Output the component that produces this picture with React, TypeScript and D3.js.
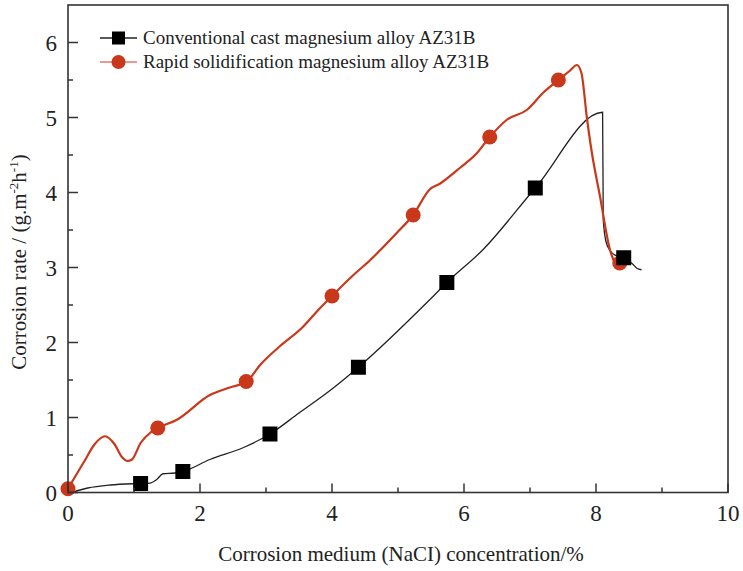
import * as d3 from 'd3';

const WIDTH = 743;
const HEIGHT = 571;
const MARGIN = { top: 5, right: 15, bottom: 78.5, left: 68 };

const X_TICKS = [0, 2, 4, 6, 8, 10];
const X_MINOR = [1, 3, 5, 7, 9];
const Y_TICKS = [0, 1, 2, 3, 4, 5, 6];
const Y_MINOR = [0.5, 1.5, 2.5, 3.5, 4.5, 5.5];

const SERIES_NAMES = [
  'Conventional cast magnesium alloy AZ31B',
  'Rapid solidification magnesium alloy AZ31B',
];

// conventional cast: concentration, rate
const castLine = [
  [0.05, 0.0], [0.3, 0.06], [0.64, 0.1], [1.09, 0.12], [1.24, 0.125], [1.34, 0.17],
  [1.44, 0.25], [1.62, 0.26], [1.74, 0.28], [2.15, 0.44], [2.66, 0.6], [3.06, 0.78],
  [3.5, 1.06], [4.0, 1.38], [4.4, 1.67], [5.48, 2.57], [5.74, 2.8], [6.29, 3.24],
  [7.08, 4.06], [8.1, 5.07], [8.11, 3.64], [8.15, 3.35], [8.21, 3.23], [8.3, 3.16],
  [8.42, 3.13], [8.55, 3.05], [8.62, 2.99], [8.69, 2.97],
];
const castMarks = [
  [1.1, 0.12], [1.74, 0.28], [3.06, 0.78], [4.4, 1.67], [5.74, 2.8], [7.08, 4.06], [8.42, 3.13],
];

// rapid solidification
const rapidLine = [
  [0.0, 0.05], [0.1, 0.2], [0.25, 0.42], [0.4, 0.64], [0.56, 0.75], [0.7, 0.65],
  [0.82, 0.47], [0.9, 0.42], [0.97, 0.44], [1.1, 0.66], [1.25, 0.8], [1.36, 0.86],
  [1.65, 0.97], [2.15, 1.3], [2.45, 1.4], [2.71, 1.48], [2.91, 1.7], [3.21, 1.95],
  [3.55, 2.2], [3.82, 2.46], [4.0, 2.62], [4.3, 2.88], [4.58, 3.1], [4.98, 3.46],
  [5.23, 3.7], [5.48, 4.04], [5.64, 4.12], [5.94, 4.33], [6.19, 4.52], [6.39, 4.74],
  [6.65, 4.97], [6.95, 5.1], [7.2, 5.33], [7.43, 5.5], [7.6, 5.62], [7.71, 5.7],
  [7.78, 5.59], [7.86, 5.01], [7.93, 4.57], [8.06, 3.95], [8.21, 3.24], [8.31, 3.01],
];
const rapidMarks = [
  [0.0, 0.05], [1.36, 0.86], [2.7, 1.48], [4.0, 2.62], [5.23, 3.7], [6.39, 4.74], [7.43, 5.5], [8.36, 3.06],
];

const RED = '#c9381a';

const App = () => {
  const boundsWidth = WIDTH - MARGIN.left - MARGIN.right;
  const boundsHeight = HEIGHT - MARGIN.top - MARGIN.bottom;

  const xScale = d3.scaleLinear().domain([0, 10]).range([0, boundsWidth]);
  const yScale = d3.scaleLinear().domain([0, 6.5]).range([boundsHeight, 0]);

  // smooth line through the read-off points
  const lineGenerator = d3
    .line()
    .x((d) => xScale(d[0]))
    .y((d) => yScale(d[1]))
    .curve(d3.curveMonotoneX);

  const font = '"Liberation Serif", "Times New Roman", serif';

  return (
    <svg
      width={WIDTH}
      height={HEIGHT}
      style={{ position: 'absolute', left: 0, top: 0, background: '#fff' }}
      fontFamily={font}
    >
      <g transform={`translate(${MARGIN.left},${MARGIN.top})`}>
        {/* data lines */}
        <path d={lineGenerator(castLine)} fill="none" stroke="#222" strokeWidth={1.3} />
        <path d={lineGenerator(rapidLine)} fill="none" stroke={RED} strokeWidth={2.2} />

        {/* markers: red first, black on top */}
        {rapidMarks.map((d, i) => (
          <circle key={'r' + i} cx={xScale(d[0])} cy={yScale(d[1])} r={7.5} fill={RED} />
        ))}
        {castMarks.map((d, i) => (
          <rect
            key={'c' + i}
            x={xScale(d[0]) - 7.5}
            y={yScale(d[1]) - 7.5}
            width={15}
            height={15}
            fill="#000"
          />
        ))}

        {/* frame */}
        <rect
          x={0}
          y={0}
          width={boundsWidth}
          height={boundsHeight}
          fill="none"
          stroke="#333"
          strokeWidth={1.6}
        />

        {/* x ticks */}
        {X_TICKS.map((t) => (
          <g key={'x' + t} transform={`translate(${xScale(t)},${boundsHeight})`}>
            <line y1={0} y2={-9} stroke="#333" strokeWidth={1.5} />
            <text y={28} textAnchor="middle" fontSize={23} fill="#222">
              {t}
            </text>
          </g>
        ))}
        {X_MINOR.map((t) => (
          <line
            key={'xm' + t}
            x1={xScale(t)}
            x2={xScale(t)}
            y1={boundsHeight}
            y2={boundsHeight - 5}
            stroke="#333"
            strokeWidth={1.5}
          />
        ))}

        {/* y ticks */}
        {Y_TICKS.map((t) => (
          <g key={'y' + t} transform={`translate(0,${yScale(t)})`}>
            <line x1={0} x2={10} stroke="#333" strokeWidth={1.5} />
            <text x={-11} dy="0.35em" textAnchor="end" fontSize={23} fill="#222">
              {t}
            </text>
          </g>
        ))}
        {Y_MINOR.map((t) => (
          <line
            key={'ym' + t}
            x1={0}
            x2={5}
            y1={yScale(t)}
            y2={yScale(t)}
            stroke="#333"
            strokeWidth={1.5}
          />
        ))}

        {/* legend */}
        <g transform="translate(32,33)">
          <line x1={0} x2={37} y1={0} y2={0} stroke="#222" strokeWidth={1.3} />
          <rect x={12} y={-6.5} width={13} height={13} fill="#000" />
          <text x={43} dy="0.33em" fontSize={19} fill="#222">
            {SERIES_NAMES[0]}
          </text>
        </g>
        <g transform="translate(32,57)">
          <line x1={0} x2={37} y1={0} y2={0} stroke="#e07a66" strokeWidth={1.3} />
          <circle cx={18.5} cy={0} r={7} fill={RED} />
          <text x={43} dy="0.33em" fontSize={19} fill="#222">
            {SERIES_NAMES[1]}
          </text>
        </g>
      </g>

      {/* axis titles */}
      <text x={401} y={561} textAnchor="middle" fontSize={21} fill="#222">
        Corrosion medium (NaCI) concentration/%
      </text>
      <text
        transform="translate(26,262) rotate(-90)"
        textAnchor="middle"
        fontSize={21}
        fill="#222"
      >
        Corrosion rate / (g.m
        <tspan fontSize={13} dy={-8}>-2</tspan>
        <tspan dy={8}>h</tspan>
        <tspan fontSize={13} dy={-8}>-1</tspan>
        <tspan dy={8}>)</tspan>
      </text>
    </svg>
  );
};

export default App;
